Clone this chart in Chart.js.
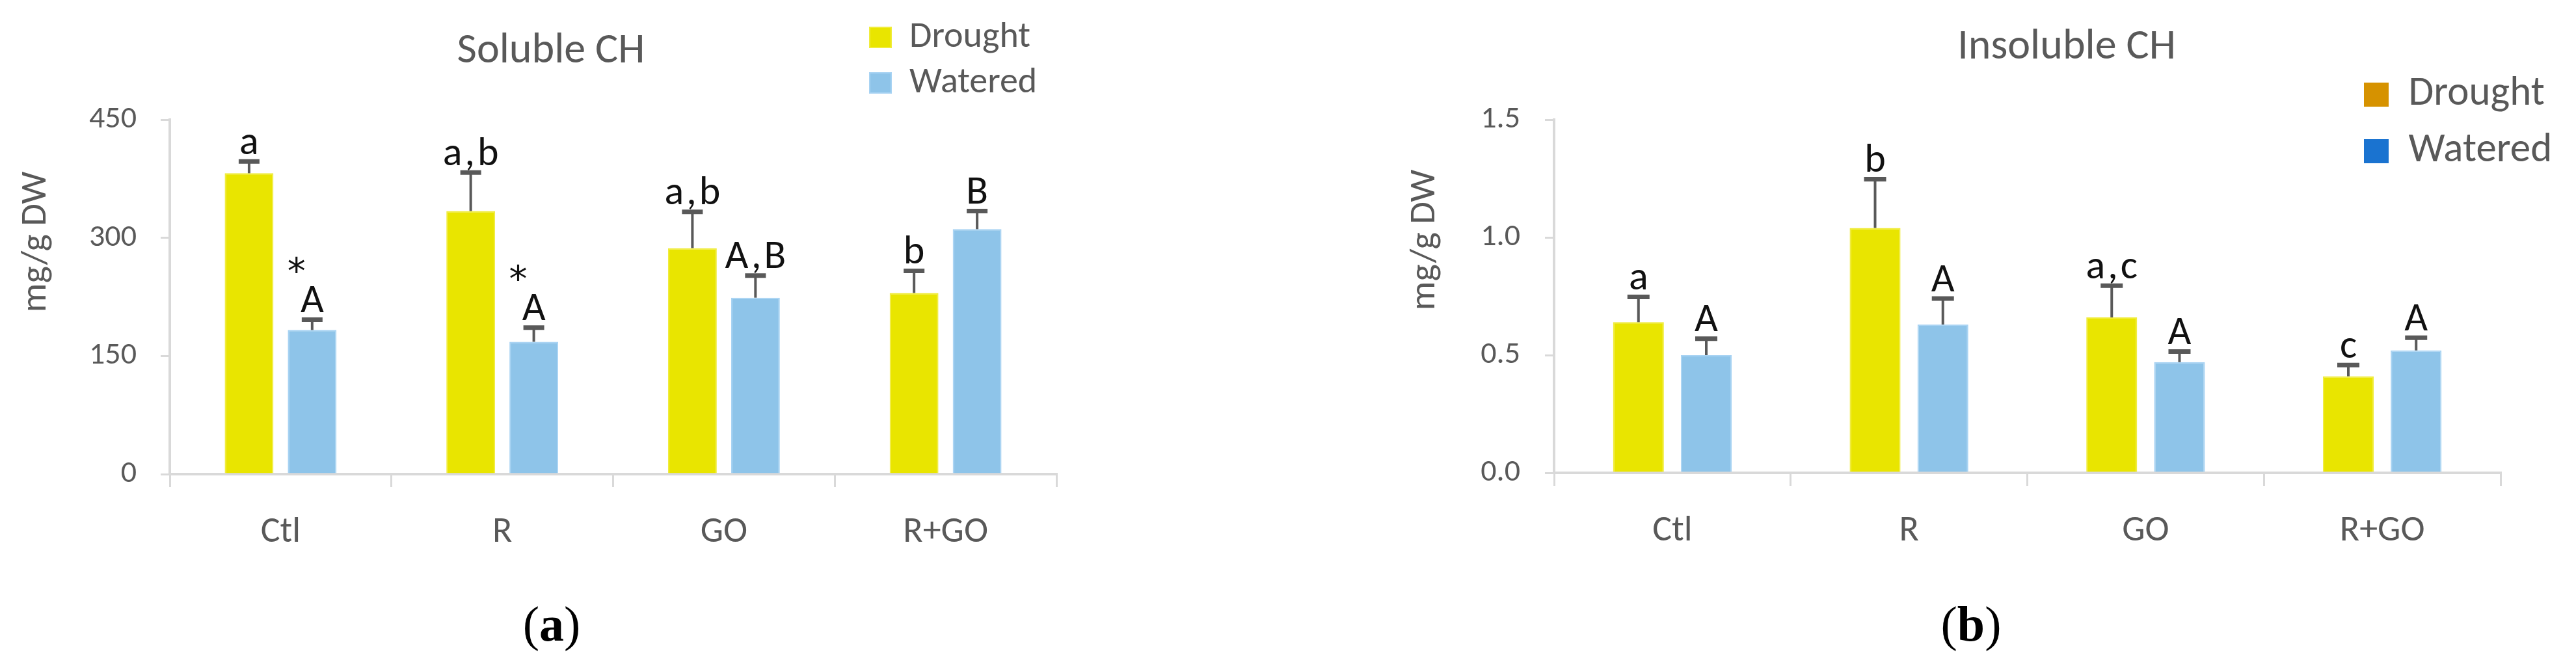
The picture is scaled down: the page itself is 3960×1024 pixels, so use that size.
<!DOCTYPE html>
<html>
<head>
<meta charset="utf-8">
<script src="https://cdn.jsdelivr.net/npm/chart.js@4.4.1/dist/chart.umd.min.js"></script>
<style>
  html, body { margin: 0; padding: 0; background: #ffffff; }
  body { width: 3960px; height: 1024px; position: relative; overflow: hidden; }
  canvas { position: absolute; top: 0; }
  #chartA { left: 0px; }
  #chartB { left: 2100px; }
  .panel { position: absolute; top: 921px; width: 300px; text-align: center;
           font-family: "Liberation Serif", "Times New Roman", serif; font-size: 76px; line-height: 1; color: #000; }
</style>
</head>
<body>
<canvas id="chartA" width="1700" height="900"></canvas>
<canvas id="chartB" width="1860" height="900"></canvas>
<div class="panel" style="left:698px;">(<b>a</b>)</div>
<div class="panel" style="left:2880px;">(<b>b</b>)</div>
<script>
// ---------------- data ----------------
const categories = ['Ctl', 'R', 'GO', 'R+GO'];
const seriesNames = ['Drought', 'Watered'];
const yTitle = 'mg/g DW';

// (a) Soluble CH
const solTitle = 'Soluble CH';
const solDrought = [382, 334, 287, 230];
const solDroughtErr = [15, 49, 46, 28];
const solWatered = [183, 168, 224, 311];
const solWateredErr = [13, 18, 28, 23];
const solDroughtLetters = ['a', 'a,b', 'a,b', 'b'];
const solWateredLetters = ['A', 'A', 'A,B', 'B'];
const solWateredStars = ['*', '*', '', ''];
const solTicks = [0, 150, 300, 450];

// (b) Insoluble CH
const insTitle = 'Insoluble CH';
const insDrought = [0.64, 1.04, 0.66, 0.41];
const insDroughtErr = [0.107, 0.207, 0.135, 0.048];
const insWatered = [0.50, 0.63, 0.47, 0.52];
const insWateredErr = [0.07, 0.11, 0.045, 0.054];
const insDroughtLetters = ['a', 'b', 'a,c', 'c'];
const insWateredLetters = ['A', 'A', 'A', 'A'];
const insWateredStars = ['', '', '', ''];
const insTicks = [0, 0.5, 1.0, 1.5];
const insLegendColors = ['#D69200', '#1A73D0'];

// ---------------- styling ----------------
const FONT = "Carlito, Lato, 'Open Sans', sans-serif";
const TXT = '#595959';
const GRID = '#d9d9d9';
const BAR_COLORS = ['#E9E500', '#8EC4E9'];
const BAR_BORDERS = ['#F0EC3C', '#A8D3F3'];
const SIZES = { title: 66, ytitle: 56, tick: 48, xlab: 56, ann: 62 };
Chart.defaults.font.family = FONT;

// place title, y-title and legend boxes where the reference has them
const placeBoxes = {
  id: 'placeBoxes',
  afterLayout(chart, args, o) {
    const t = chart.titleBlock;
    if (t && o.title) {
      const h = t.height;
      t.left = o.title.x - 500; t.right = o.title.x + 500;
      t.top = o.title.y - h / 2; t.bottom = t.top + h;
    }
    const st = chart.boxes.find(b => t && b !== t && b.constructor === t.constructor);
    if (st && o.ytitle) {
      const off = st.options.font.size / 2;
      const w = st.width;
      st.left = o.ytitle.x - off; st.right = st.left + w;
      st.top = o.ytitle.y - 300; st.bottom = o.ytitle.y + 300;
    }
    const lg = chart.legend;
    if (lg && o.legend) {
      const w = lg.width + 60, h = lg.height;
      lg.left = o.legend.x; lg.top = o.legend.y;
      lg.width = w; lg.right = lg.left + w; lg.bottom = lg.top + h;
    }
  }
};

// error bars and significance letters, positioned through the y scale
const errorBars = {
  id: 'errorBars',
  afterDatasetsDraw(chart, args, o) {
    const ctx = chart.ctx;
    const yScale = chart.scales.y;
    chart.data.datasets.forEach((ds, i) => {
      const meta = chart.getDatasetMeta(i);
      meta.data.forEach((bar, j) => {
        const v = ds.data[j], e = ds.errors[j];
        const yTop = yScale.getPixelForValue(v + e);
        ctx.save();
        ctx.strokeStyle = o.color;
        ctx.lineWidth = o.stem;
        ctx.beginPath(); ctx.moveTo(bar.x, bar.y); ctx.lineTo(bar.x, yTop); ctx.stroke();
        ctx.lineWidth = o.capThick;
        ctx.beginPath(); ctx.moveTo(bar.x - o.capW / 2, yTop); ctx.lineTo(bar.x + o.capW / 2, yTop); ctx.stroke();
        ctx.fillStyle = o.textColor;
        ctx.textAlign = 'center';
        ctx.textBaseline = 'alphabetic';
        const base = yTop - o.capThick / 2 - o.gap;
        ctx.font = o.fontSize + 'px ' + FONT;
        const txt = ds.letters && ds.letters[j];
        if (txt) {
          const sp = txt.length > 1 ? o.spacing : 0;
          ctx.letterSpacing = sp + 'px';
          ctx.fillText(txt, bar.x + sp / 2, base);
          ctx.letterSpacing = '0px';
        }
        ctx.font = o.starFont;
        if (ds.stars && ds.stars[j]) ctx.fillText(ds.stars[j], bar.x + o.starDx, base + o.starDy);
        ctx.restore();
      });
    });
  }
};

function buildChart(id, c) {
  return new Chart(document.getElementById(id), {
    type: 'bar',
    data: {
      labels: categories,
      datasets: [
        { label: seriesNames[0], data: c.d, errors: c.de, letters: c.dl, stars: [],
          backgroundColor: BAR_COLORS[0], borderColor: BAR_BORDERS[0], borderWidth: 2 },
        { label: seriesNames[1], data: c.w, errors: c.we, letters: c.wl, stars: c.ws,
          backgroundColor: BAR_COLORS[1], borderColor: BAR_BORDERS[1], borderWidth: 2 }
      ]
    },
    options: {
      responsive: false, animation: false, devicePixelRatio: 1,
      layout: { padding: { left: 0, top: 184 - SIZES.title, right: c.padRight, bottom: 0 } },
      datasets: { bar: { barPercentage: c.barPct, categoryPercentage: c.catPct } },
      scales: {
        x: {
          grid: { offset: true, drawOnChartArea: false, tickLength: 20, color: GRID, lineWidth: 3 },
          border: { color: GRID, width: 4 },
          ticks: { color: TXT, font: { size: SIZES.xlab }, padding: 36 },
          afterFit: s => { s.height = c.xH; }
        },
        y: {
          min: 0, max: c.ticks[c.ticks.length - 1],
          grid: { drawOnChartArea: false, tickLength: 14, color: GRID, lineWidth: 3 },
          border: { color: GRID, width: 4 },
          ticks: { color: TXT, font: { size: SIZES.tick }, padding: c.tickPad, callback: c.fmt },
          afterBuildTicks: s => { s.ticks = c.ticks.map(v => ({ value: v })); },
          afterFit: s => { s.width = c.yW; }
        }
      },
      plugins: {
        title: { display: true, text: c.title, color: TXT, font: { size: SIZES.title, weight: 'normal', lineHeight: 1 }, padding: 0 },
        subtitle: { display: true, position: 'left', text: yTitle, color: TXT, font: { size: SIZES.ytitle, weight: 'normal', lineHeight: 1 }, padding: 0 },
        legend: {
          position: 'chartArea', align: 'start',
          labels: {
            color: TXT, font: { size: c.legFont }, boxWidth: c.legBoxW, boxHeight: c.legBoxH, padding: c.legPad,
            generateLabels(chart) {
              const items = Chart.defaults.plugins.legend.labels.generateLabels(chart);
              if (c.legColors) items.forEach((it, i) => { it.fillStyle = c.legColors[i]; it.strokeStyle = c.legColors[i]; });
              return items;
            }
          }
        },
        tooltip: { enabled: false },
        placeBoxes: c.place,
        errorBars: { color: '#595959', textColor: '#111111', stem: 4, capThick: 7, capW: c.capW,
                     gap: 8, fontSize: SIZES.ann, spacing: 4, starFont: "56px 'DejaVu Sans'", starDx: -24, starDy: -44 }
      }
    },
    plugins: [placeBoxes, errorBars]
  });
}

buildChart('chartA', {
  title: solTitle, d: solDrought, de: solDroughtErr, w: solWatered, we: solWateredErr,
  dl: solDroughtLetters, wl: solWateredLetters, ws: solWateredStars, ticks: solTicks,
  fmt: v => String(v), padRight: 76, xH: 171, yW: 261 - SIZES.ytitle, tickPad: 37,
  barPct: 0.773, catPct: 0.569, capW: 32,
  legFont: 56, legBoxW: 33, legBoxH: 31, legPad: 14, legColors: null,
  place: { title: { x: 847, y: 79 }, ytitle: { x: 56, y: 372 }, legend: { x: 1323, y: 15.5 } }
});

buildChart('chartB', {
  title: insTitle, d: insDrought, de: insDroughtErr, w: insWatered, we: insWateredErr,
  dl: insDroughtLetters, wl: insWateredLetters, ws: insWateredStars, ticks: insTicks,
  fmt: v => Number(v).toFixed(1), padRight: 116, xH: 173, yW: 289 - SIZES.ytitle, tickPad: 38,
  barPct: 0.75, catPct: 0.573, capW: 34,
  legFont: 63, legBoxW: 36, legBoxH: 35, legPad: 24, legColors: insLegendColors,
  place: { title: { x: 1077, y: 73 }, ytitle: { x: 91, y: 369 }, legend: { x: 1511, y: 90 } }
});
</script>
</body>
</html>
